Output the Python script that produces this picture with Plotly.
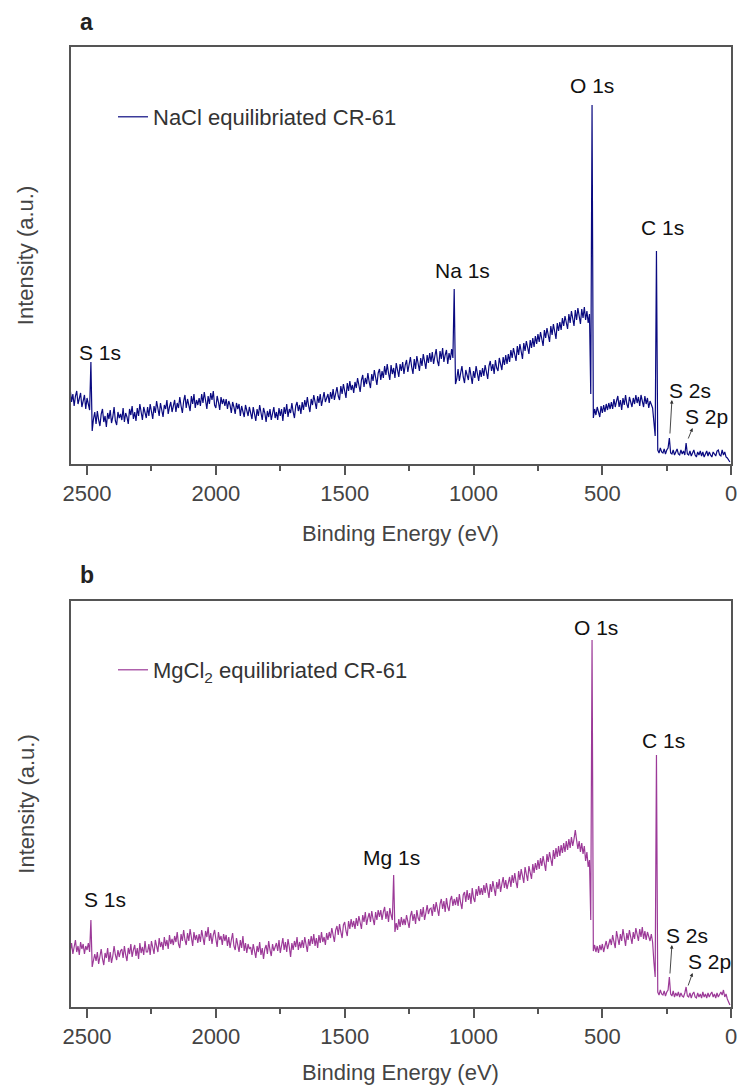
import plotly.graph_objects as go

# Binding energy grid (eV), high -> low, 5 eV steps
energy_ev = list(range(2565, 0, -5))

# Survey spectrum, NaCl equilibriated CR-61 (a.u.), rows of 100 eV
nacl_intensity = [
    74, 62, 70, 58, 68, 73, 60, 66, 71, 57, 64, 69, 55, 66, 60, 54, 102, 33, 45, 52,
    40, 53, 44, 38, 50, 55, 42, 48, 37, 51, 45, 54, 41, 47, 57, 43, 39, 52, 46, 50,
    44, 56, 42, 51, 47, 40, 55, 49, 58, 45, 52, 43, 56, 48, 60, 50, 44, 57, 51, 46,
    57, 48, 60, 52, 45, 58, 51, 63, 53, 48, 61, 54, 47, 59, 55, 64, 50, 57, 62, 52,
    60, 64, 52, 61, 56, 67, 58, 51, 63, 69, 56, 65, 59, 53, 68, 60, 70, 56, 64, 59,
    66, 58, 70, 61, 72, 63, 55, 68, 60, 71, 64, 73, 59, 56, 68, 62, 54, 67, 60, 65,
    58, 65, 55, 63, 59, 51, 62, 57, 50, 61, 55, 60, 48, 58, 53, 47, 59, 54, 48, 57,
    50, 45, 57, 51, 43, 55, 48, 59, 49, 44, 56, 51, 42, 53, 47, 55, 44, 51, 57, 46,
    52, 44, 56, 48, 55, 43, 57, 50, 60, 47, 55, 51, 61, 52, 46, 58, 62, 53, 59, 50,
    62, 54, 64, 57, 67, 58, 52, 65, 59, 69, 60, 55, 68, 61, 70, 58, 65, 72, 62, 67,
    70, 61, 72, 65, 75, 64, 70, 77, 68, 64, 78, 70, 80, 71, 66, 81, 73, 83, 74, 79,
    71, 82, 76, 86, 77, 72, 84, 89, 77, 86, 80, 91, 82, 76, 90, 83, 94, 84, 79, 91,
    95, 84, 93, 86, 98, 89, 100, 91, 84, 99, 90, 96, 86, 101, 92, 87, 100, 93, 102, 90,
    99, 104, 92, 100, 107, 97, 90, 105, 95, 108, 99, 93, 106, 98, 110, 100, 95, 109, 101, 111,
    102, 112, 100, 108, 115, 103, 98, 113, 105, 116, 102, 109, 114, 100, 111, 104, 115, 106, 175, 80,
    85, 95, 83, 91, 98, 87, 81, 94, 89, 84, 97, 90, 80, 93, 86, 98, 88, 83, 94, 87,
    96, 88, 99, 92, 85, 98, 103, 93, 100, 90, 104, 96, 93, 106, 98, 94, 107, 99, 109, 100,
    110, 102, 114, 106, 116, 108, 103, 118, 109, 120, 111, 105, 121, 113, 123, 114, 110, 124, 116, 126,
    117, 128, 120, 130, 122, 132, 123, 118, 134, 126, 136, 127, 122, 138, 129, 140, 131, 125, 141, 133,
    142, 134, 146, 138, 148, 140, 135, 150, 141, 153, 143, 138, 154, 144, 156, 145, 140, 155, 146, 157,
    144, 153, 141, 150, 70, 359, 46, 55, 49, 57, 50, 47, 58, 51, 59, 52, 60, 54, 61, 55,
    62, 55, 65, 57, 63, 68, 57, 64, 54, 66, 59, 69, 60, 56, 67, 61, 57, 66, 60, 69,
    61, 67, 58, 69, 62, 57, 68, 60, 66, 56, 63, 59, 56, 42, 28, 213, 14, 11, 16, 12,
    11, 15, 10, 14, 16, 26, 11, 10, 14, 9, 12, 15, 10, 9, 14, 10, 13, 9, 21, 10,
    9, 13, 8, 12, 14, 9, 7, 12, 9, 13, 8, 12, 7, 10, 13, 8, 12, 9, 7, 12,
    10, 8, 13, 14, 9, 8, 14, 9, 12, 7, 6, 4, 2,
]

# Survey spectrum, MgCl2 equilibriated CR-61 (a.u.), rows of 100 eV
mgcl2_intensity = [
    56, 64, 53, 62, 67, 55, 61, 52, 65, 58, 63, 53, 61, 57, 64, 55, 87, 40, 46, 53,
    46, 55, 43, 52, 58, 48, 42, 54, 49, 59, 45, 55, 44, 51, 61, 52, 47, 57, 50, 56,
    58, 49, 61, 52, 46, 59, 53, 63, 50, 57, 62, 51, 59, 48, 64, 54, 60, 52, 66, 55,
    55, 63, 52, 66, 58, 53, 67, 59, 55, 69, 60, 65, 57, 70, 61, 67, 58, 72, 63, 68,
    62, 71, 65, 75, 63, 59, 73, 66, 77, 67, 62, 74, 66, 78, 69, 61, 75, 67, 72, 64,
    73, 65, 77, 68, 62, 76, 70, 80, 66, 74, 63, 72, 77, 68, 60, 75, 67, 71, 62, 73,
    66, 72, 61, 70, 59, 67, 74, 61, 57, 69, 63, 55, 67, 59, 71, 56, 64, 54, 63, 58,
    60, 52, 63, 56, 49, 61, 55, 65, 52, 59, 48, 58, 62, 53, 66, 57, 51, 63, 56, 60,
    64, 56, 67, 54, 62, 69, 57, 65, 55, 68, 60, 50, 64, 57, 66, 60, 70, 57, 65, 59,
    67, 59, 70, 62, 55, 68, 61, 71, 63, 73, 61, 69, 59, 72, 64, 75, 65, 70, 62, 74,
    67, 75, 69, 79, 71, 65, 77, 81, 72, 83, 75, 69, 82, 85, 76, 71, 86, 78, 88, 80,
    86, 78, 89, 81, 91, 84, 78, 92, 85, 95, 82, 89, 94, 85, 96, 88, 82, 95, 87, 97,
    90, 97, 87, 95, 100, 88, 96, 85, 99, 92, 87, 132, 75, 84, 77, 88, 80, 90, 82, 88,
    82, 92, 85, 79, 91, 96, 86, 93, 83, 97, 89, 86, 98, 90, 100, 87, 94, 102, 93, 98,
    99, 91, 103, 95, 105, 97, 91, 103, 108, 98, 106, 95, 109, 100, 96, 107, 111, 101, 108, 102,
    110, 101, 113, 104, 98, 112, 115, 105, 117, 107, 114, 103, 119, 109, 105, 118, 111, 121, 112, 119,
    112, 122, 114, 124, 116, 109, 123, 115, 126, 117, 111, 125, 118, 128, 115, 123, 130, 119, 127, 118,
    125, 130, 120, 132, 124, 134, 125, 119, 136, 127, 138, 129, 124, 140, 131, 126, 141, 133, 128, 143,
    134, 144, 137, 147, 138, 149, 141, 151, 142, 136, 153, 145, 155, 146, 141, 157, 148, 159, 150, 161,
    151, 162, 154, 164, 155, 166, 157, 168, 159, 170, 161, 168, 177, 167, 158, 166, 155, 164, 153, 161,
    146, 155, 140, 147, 87, 367, 56, 62, 55, 61, 54, 62, 57, 63, 55, 61, 66, 58, 64, 68,
    62, 72, 65, 59, 76, 67, 62, 73, 66, 78, 68, 61, 74, 67, 77, 70, 63, 75, 68, 79,
    71, 66, 78, 70, 80, 68, 76, 67, 75, 70, 66, 73, 65, 45, 30, 252, 15, 12, 17, 13,
    12, 16, 11, 15, 17, 30, 13, 11, 16, 10, 14, 11, 15, 10, 14, 11, 10, 14, 20, 11,
    10, 14, 9, 13, 15, 10, 9, 14, 10, 13, 9, 15, 10, 13, 9, 14, 10, 13, 15, 10,
    13, 9, 14, 10, 13, 15, 12, 17, 10, 13, 8, 5, 2,
]

x_tick_values = [0, 500, 1000, 1500, 2000, 2500]
x_tick_labels = ["0", "500", "1000", "1500", "2000", "2500"]

# Peak labels: (text, energy, intensity)
peaks_a = [("S 1s", 2450, 112), ("Na 1s", 1044, 194), ("O 1s", 542, 379),
           ("C 1s", 268, 237), ("S 2s", 160, 74), ("S 2p", 95, 48)]
peaks_b = [("S 1s", 2432, 108), ("Mg 1s", 1317, 150), ("O 1s", 523, 380),
           ("C 1s", 264, 267), ("S 2s", 173, 72), ("S 2p", 86, 46)]
# arrows: (tip energy, tip intensity, tail energy, tail intensity)
arrows_a = [(230, 64, 238, 29), (150, 36, 169, 24)]
arrows_b = [(230, 62, 238, 32), (150, 34, 169, 20)]

FONT = "Liberation Sans, Arial, sans-serif"
W, H = 747, 1086
X0, X1 = 64, 737
A_TOP, A_BOT = 47, 464
B_TOP, B_BOT = 601, 1007


def py(p):
    return 1 - p / H


fig = go.Figure()
fig.add_trace(go.Scatter(x=energy_ev, y=nacl_intensity, mode="lines",
                         line=dict(color="#0a0a80", width=1.2),
                         name="NaCl equilibriated CR-61",
                         xaxis="x", yaxis="y", legend="legend"))
fig.add_trace(go.Scatter(x=energy_ev, y=mgcl2_intensity, mode="lines",
                         line=dict(color="#9c3a98", width=1.2),
                         name="MgCl<sub>2</sub> equilibriated CR-61",
                         xaxis="x2", yaxis="y2", legend="legend2"))

xaxis_style = dict(
    domain=[X0 / W, X1 / W], range=[2563, 0], showline=True, mirror=True,
    linecolor="#555555", linewidth=1.8, showgrid=False, zeroline=False,
    ticks="outside", ticklen=9, tickwidth=1.8, tickcolor="#555555",
    tickvals=x_tick_values, ticktext=x_tick_labels,
    tickfont=dict(family=FONT, size=22, color="#444444"),
    minor=dict(ticks="outside", ticklen=5, tickwidth=1.5, tickcolor="#555555",
               tickvals=[250, 750, 1250, 1750, 2250]),
)
yaxis_style = dict(showline=True, mirror=True, linecolor="#555555", linewidth=1.8,
                   showgrid=False, zeroline=False, showticklabels=False, ticks="")

legend_font = dict(family=FONT, size=22, color="#333333")
fig.update_layout(
    width=W, height=H, margin=dict(l=0, r=0, t=0, b=0),
    paper_bgcolor="white", plot_bgcolor="white",
    xaxis=dict(anchor="y", **xaxis_style),
    yaxis=dict(anchor="x", domain=[py(A_BOT), py(A_TOP)], range=[0, 417], **yaxis_style),
    xaxis2=dict(anchor="y2", **xaxis_style),
    yaxis2=dict(anchor="x2", domain=[py(B_BOT), py(B_TOP)], range=[0, 406], **yaxis_style),
    legend=dict(x=107 / W, y=py(117), xanchor="left", yanchor="middle",
                bgcolor="rgba(0,0,0,0)", font=legend_font),
    legend2=dict(x=107 / W, y=py(670), xanchor="left", yanchor="middle",
                 bgcolor="rgba(0,0,0,0)", font=legend_font),
    showlegend=True,
)

label_font = dict(family=FONT, size=21, color="#111111")
annotations = []
for (peaks, arrows, xr, yr) in [(peaks_a, arrows_a, "x", "y"), (peaks_b, arrows_b, "x2", "y2")]:
    for text, ex, ey in peaks:
        annotations.append(dict(text=text, x=ex, y=ey, xref=xr, yref=yr, showarrow=False,
                                font=label_font, xanchor="center", yanchor="middle"))
    for tx, ty, sx, sy in arrows:
        annotations.append(dict(text="", x=tx, y=ty, ax=sx, ay=sy, xref=xr, yref=yr,
                                axref=xr, ayref=yr, showarrow=True, arrowhead=2,
                                arrowsize=0.8, arrowwidth=0.9, arrowcolor="#333333"))

for letter, ypix in [("a", 22), ("b", 575)]:
    annotations.append(dict(text="<b>" + letter + "</b>", x=80 / W, y=py(ypix), xref="paper",
                            yref="paper", showarrow=False, xanchor="center", yanchor="middle",
                            font=dict(family=FONT, size=23, color="#222222")))

for ycenter, ytitle in [((A_TOP + A_BOT) / 2, 533), ((B_TOP + B_BOT) / 2, 1072)]:
    annotations.append(dict(text="Intensity (a.u.)", x=18 / W, y=py(ycenter), xref="paper",
                            yref="paper", showarrow=False, textangle=-90, xanchor="center",
                            yanchor="middle", font=dict(family=FONT, size=22, color="#444444")))
    annotations.append(dict(text="Binding Energy (eV)", x=400 / W, y=py(ytitle), xref="paper",
                            yref="paper", showarrow=False, xanchor="center", yanchor="middle",
                            font=dict(family=FONT, size=22, color="#444444")))

fig.update_layout(annotations=annotations)
fig.write_html("out.html")
